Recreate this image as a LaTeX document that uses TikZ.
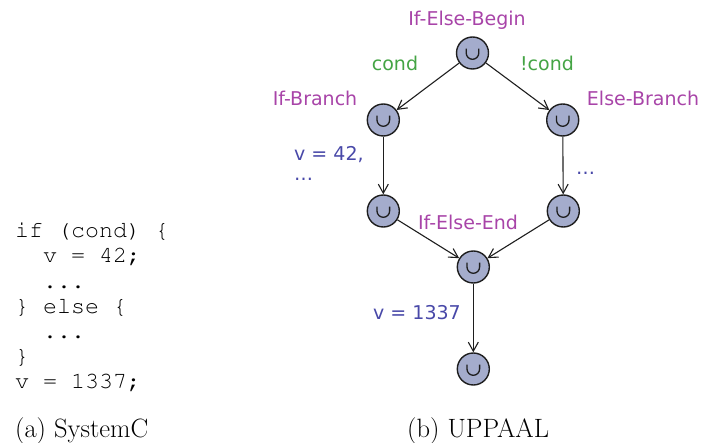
\documentclass[tikz,border=0pt]{standalone}
\usepackage{fontspec}
\usetikzlibrary{arrows.meta}
\newfontfamily\uppaalfont{DejaVu Sans}
\definecolor{locfill}{RGB}{164,172,204}
\definecolor{locname}{RGB}{168,68,168}
\definecolor{guardcol}{RGB}{68,164,68}
\definecolor{updatecol}{RGB}{72,72,168}
\definecolor{edgecol}{RGB}{30,30,30}
\tikzset{
  loc/.style={circle, draw=edgecol, fill=locfill, line width=1.4pt,
    minimum size=32pt, inner sep=0pt, path picture={
      \draw[edgecol, line width=1.3pt]
        ([shift={(-6.3pt,4.3pt)}]path picture bounding box.center)
        -- ++(0,-4.3pt) arc[start angle=180, end angle=360, radius=6.3pt]
        -- ++(0,4.3pt);}},
  trans/.style={draw=edgecol, line width=1.1pt,
    -{Straight Barb[length=9pt,width=10pt,line width=1.1pt]}},
  lbltext/.style={font=\uppaalfont\fontsize{19}{22}\selectfont, inner sep=0pt},
  locnamelbl/.style={lbltext, text=locname},
  guardlbl/.style={lbltext, text=guardcol},
  updlbl/.style={lbltext, text=updatecol},
  codeline/.style={font=\fontencoding{T1}\fontfamily{pcr}\fontsize{23.3}{25}\selectfont,
    anchor=base west, inner sep=0pt},
  subcap/.style={font=\fontsize{26.5}{30}\selectfont, anchor=base west, inner sep=0pt}
}
\begin{document}
\begin{tikzpicture}[x=1pt, y=-1pt]
  \useasboundingbox (0,0) rectangle (703,443);

  % SystemC source
  \node[codeline] (c1) at (15,238) {if (cond) \{};
  \node[codeline] (c2) at (43,263) {v = 42;};
  \node[codeline] (c3) at (43,288) {...};
  \node[codeline] (c4) at (15,313) {\} else \{};
  \node[codeline] (c5) at (43,338) {...};
  \node[codeline] (c6) at (15,363) {\}};
  \node[codeline] (c7) at (15,388) {v = 1337;};

  % UPPAAL template
  \node[loc] (begin) at (472.5,53) {};
  \node[loc] (ifb)   at (383.3,120) {};
  \node[loc] (elseb) at (562.7,120) {};
  \node[loc] (ifm)   at (383.3,211) {};
  \node[loc] (elsem) at (563.3,211) {};
  \node[loc] (fin)   at (473.3,267) {};
  \node[loc] (last)  at (473.3,369) {};

  \draw[trans] (begin) -- (ifb);
  \draw[trans] (begin) -- (elseb);
  \draw[trans] (ifb) -- (ifm);
  \draw[trans] (elseb) -- (elsem);
  \draw[trans] (ifm) -- (fin);
  \draw[trans] (elsem) -- (fin);
  \draw[trans] (fin) -- (last);

  \node[locnamelbl] (nbegin) at (467,20) {If-Else-Begin};
  \node[locnamelbl] (nifb) at (315,98) {If-Branch};
  \node[locnamelbl] (nelseb) at (643,98) {Else-Branch};
  \node[locnamelbl] (nend) at (468,222) {If-Else-End};

  \node[guardlbl] (gcond) at (395,63) {cond};
  \node[guardlbl] (gncond) at (547,63) {!cond};

  \node[updlbl, anchor=west] (u42) at (294,155) {v = 42,};
  \node[updlbl, anchor=base west] (u42b) at (294,181) {\dots};
  \node[updlbl, anchor=base west] (uelse) at (576,175) {\dots};
  \node[updlbl] (u1337) at (417,313) {v = 1337};

  % Sub-figure captions
  \node[subcap] (capa) at (15,437) {(a) SystemC};
  \node[subcap] (capb) at (407,437) {(b) UPPAAL};
\end{tikzpicture}
\end{document}
